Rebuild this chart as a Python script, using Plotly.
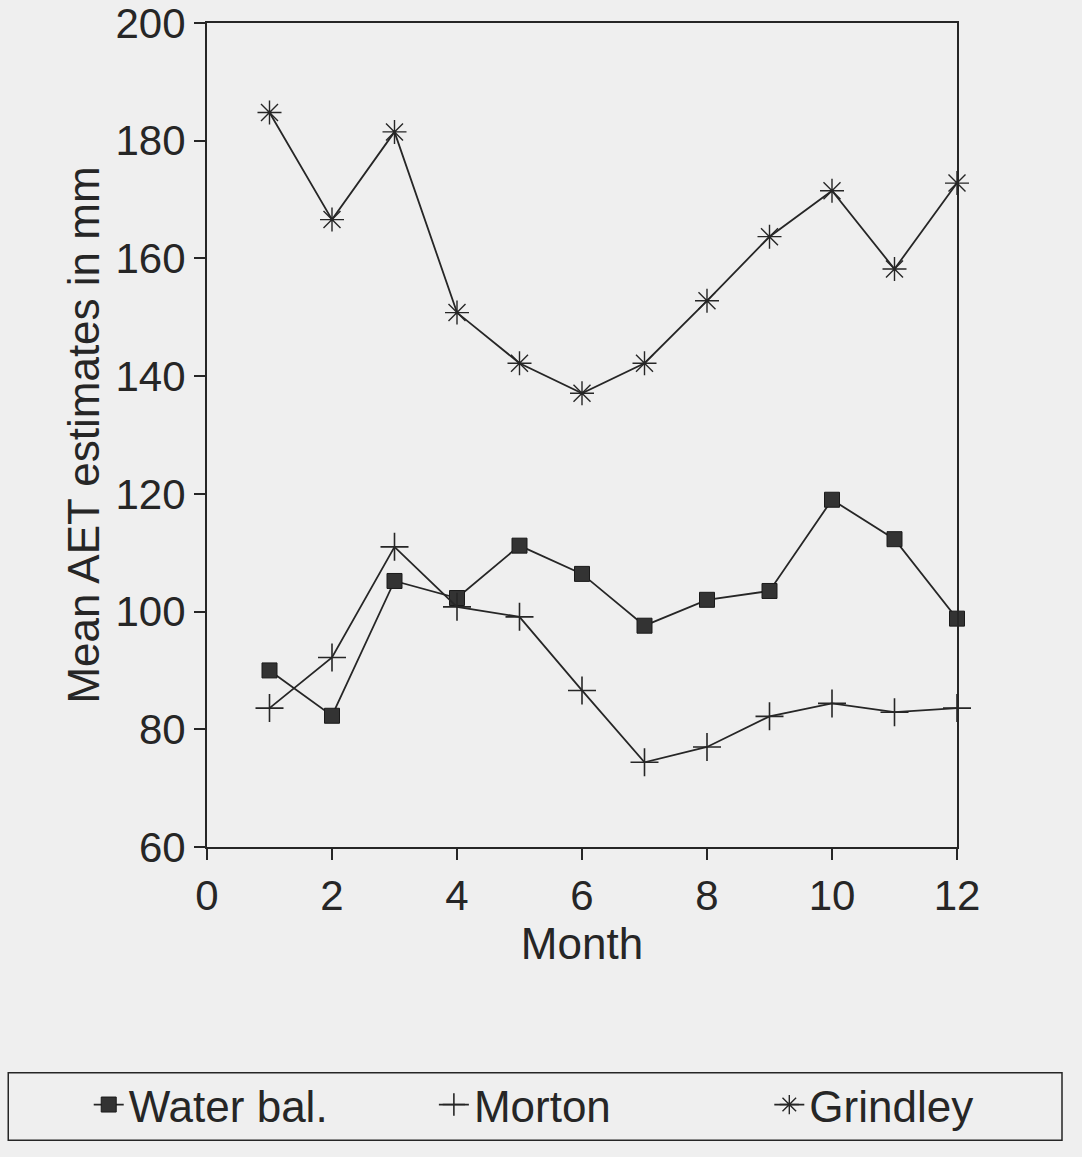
import plotly.graph_objects as go

# Monthly mean actual evapotranspiration (AET) estimates, mm
months = [1, 2, 3, 4, 5, 6, 7, 8, 9, 10, 11, 12]
water_bal = [90.0, 82.3, 105.2, 102.3, 111.2, 106.4, 97.6, 102.0, 103.5, 119.0, 112.3, 98.8]
morton = [83.6, 92.2, 111.0, 100.8, 99.1, 86.6, 74.4, 77.0, 82.2, 84.4, 82.9, 83.6]
grindley = [184.8, 166.6, 181.5, 150.8, 142.2, 137.1, 142.2, 152.8, 163.7, 171.5, 158.2, 172.8]

x_ticks = [0, 2, 4, 6, 8, 10, 12]
y_ticks = [60, 80, 100, 120, 140, 160, 180, 200]

ink = "#262626"
bg = "#efefef"
font_family = "Liberation Sans, Arial, Helvetica, sans-serif"

fig = go.Figure()

fig.add_trace(go.Scatter(
    x=months, y=water_bal, name="Water bal.", mode="lines+markers",
    line=dict(color=ink, width=1.8), cliponaxis=False, legend="legend",
    marker=dict(symbol="square", size=15, color="#333333",
                line=dict(color="#1a1a1a", width=1)),
))
fig.add_trace(go.Scatter(
    x=months, y=morton, name="Morton", mode="lines+markers",
    line=dict(color=ink, width=1.8), cliponaxis=False, legend="legend2",
    marker=dict(symbol="cross-thin-open", size=20, color=ink,
                line=dict(color=ink, width=1.6)),
))
fig.add_trace(go.Scatter(
    x=months, y=grindley, name="Grindley", mode="lines+markers",
    line=dict(color=ink, width=1.8), cliponaxis=False, legend="legend3",
    marker=dict(symbol="asterisk-open", size=20, color=ink,
                line=dict(color=ink, width=1.4)),
))

axis_common = dict(
    showline=True, linecolor=ink, linewidth=2, mirror=True,
    ticks="outside", ticklen=11, tickwidth=2, tickcolor=ink,
    showgrid=False, zeroline=False, ticklabeloverflow="allow",
    tickfont=dict(family=font_family, size=42, color=ink),
)

fig.update_xaxes(
    range=[0, 12], tickvals=x_ticks, ticktext=[str(v) for v in x_ticks],
    title=dict(text="Month", font=dict(family=font_family, size=44, color=ink),
               standoff=2),
    **axis_common,
)
fig.update_yaxes(
    range=[60, 200], tickvals=y_ticks, ticktext=[str(v) for v in y_ticks],
    title=dict(text="Mean AET estimates in mm",
               font=dict(family=font_family, size=44, color=ink), standoff=2),
    **axis_common,
)

# Frame around the legend strip at the bottom of the page
fig.add_shape(
    type="rect", xref="paper", yref="paper",
    x0=-0.265, x1=1.14, y0=-0.356, y1=-0.274,
    line=dict(color=ink, width=1.5), fillcolor="rgba(0,0,0,0)",
)

legend_common = dict(
    orientation="h", xref="container", yref="container",
    yanchor="middle", xanchor="left", y=0.045,
    font=dict(family=font_family, size=44, color=ink),
    bgcolor="rgba(0,0,0,0)", borderwidth=0, itemsizing="trace",
)

fig.update_layout(
    width=1082, height=1157,
    margin=dict(l=207, r=125, t=23, b=310, autoexpand=False),
    paper_bgcolor=bg, plot_bgcolor=bg,
    font=dict(family=font_family, color=ink),
    showlegend=True,
    legend=dict(x=0.082, **legend_common),
    legend2=dict(x=0.401, **legend_common),
    legend3=dict(x=0.711, **legend_common),
)

fig.write_html("out.html")
